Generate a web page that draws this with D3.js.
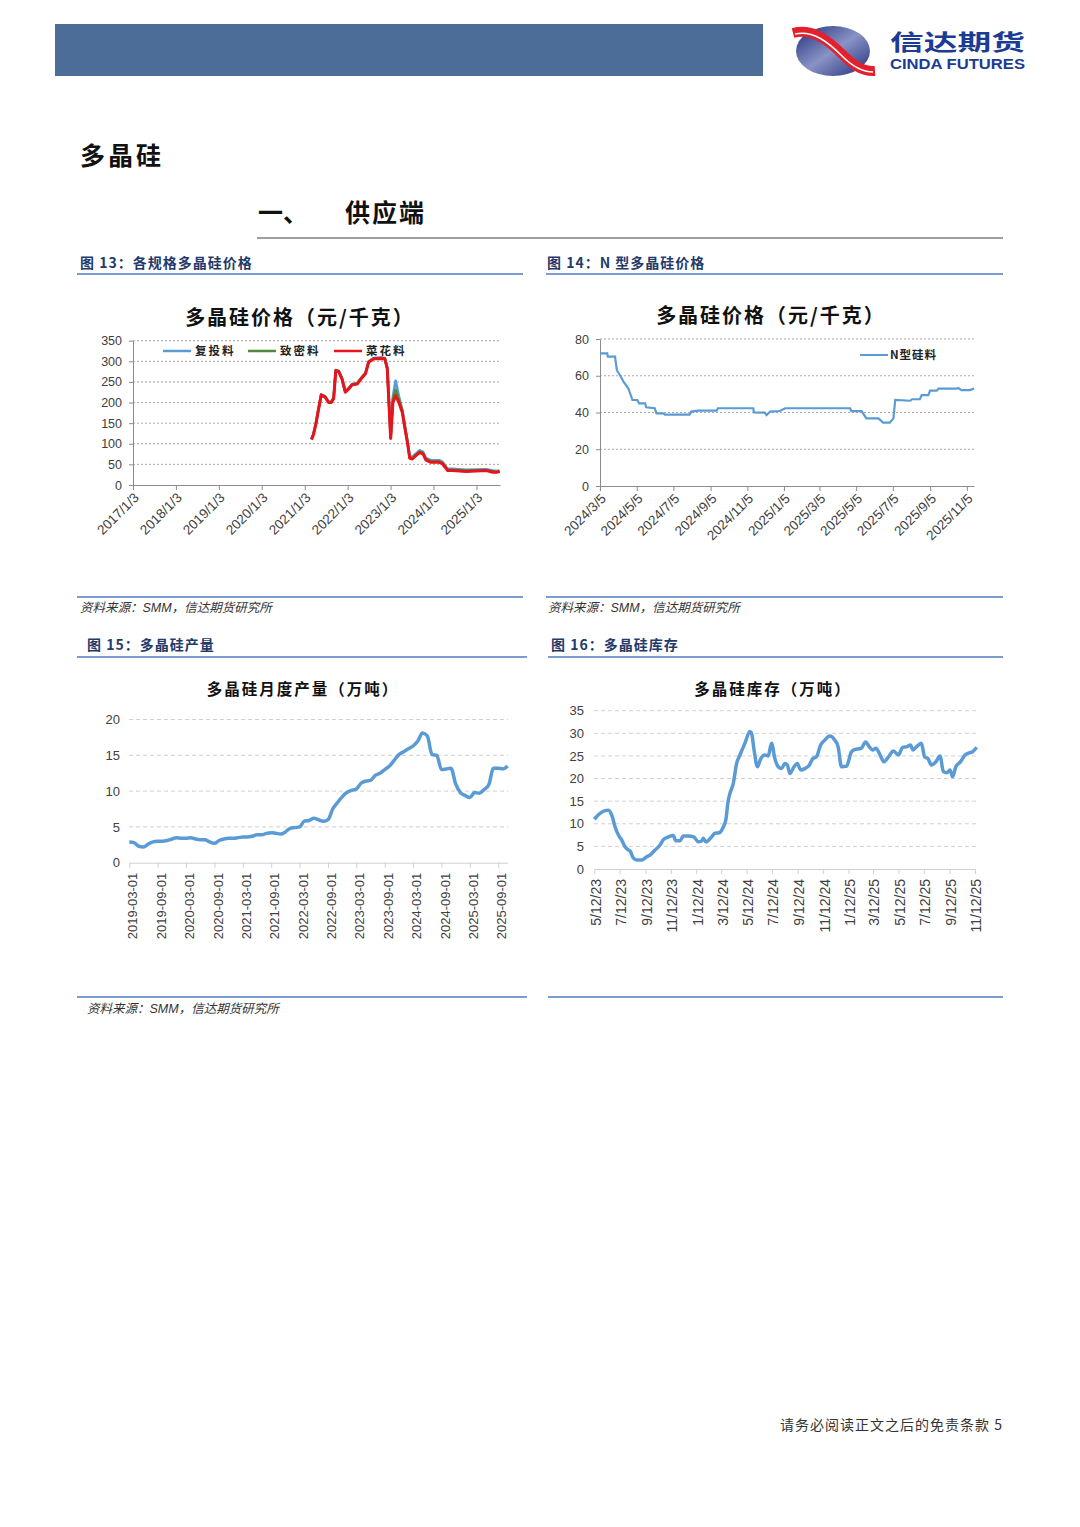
<!DOCTYPE html>
<html>
<head>
<meta charset="utf-8">
<script src="https://cdn.jsdelivr.net/npm/d3@7"></script>
<style>
  body { margin: 0; background: #fff; }
  svg text { font-family: "Liberation Sans", Arial, sans-serif; }
</style>
</head>
<body>
<svg id="page" width="1080" height="1527"></svg>
<script>
// ---------- 图13 各规格多晶硅价格 ----------
const priceDates = ["2021-03-01","2021-03-18","2021-04-08","2021-04-25","2021-05-23","2021-06-26","2021-07-25","2021-08-17","2021-09-06","2021-09-24",
  "2021-10-19","2021-11-16","2021-12-14","2022-01-12","2022-02-10","2022-03-25","2022-05-07","2022-06-04","2022-07-01","2022-08-13",
  "2022-10-09","2022-11-15","2022-12-06","2022-12-20","2023-01-04","2023-01-23","2023-02-15","2023-03-15","2023-04-13","2023-05-11",
  "2023-05-26","2023-06-15","2023-07-08","2023-08-05","2023-09-09","2023-10-07","2023-10-30","2023-12-11","2024-02-21","2024-03-21",
  "2024-05-03","2024-06-14","2024-10-07","2025-03-27","2025-05-22","2025-07-01","2025-07-18"];
const fuTouLiao = [112,124,150,177,220,215,202,202,212,279, 277,259,227,235,245,247,263,272,300,308,
  309,308,285,205,118,215,253,215,182,133, 108,70,68,76,84,80,66,60,60,56, 39,39,37,38,35,34,35];
const zhiMiLiao = [111,123,149,176,219,214,201,201,211,278, 276,258,226,234,244,246,262,271,299,307,
  308,307,283,202,115,208,230,207,179,130, 106,67,65,73,81,77,63,57,57,53, 37,37,35,36,33,32,34];
const caiHuaLiao = [110,122,148,175,218,213,200,200,210,277, 275,257,225,233,243,245,261,270,298,306,
  307,306,282,200,113,200,217,200,176,128, 104,65,63,71,79,75,61,55,55,51, 35,35,33,35,31,31,33];
const priceSeriesNames = ["复投料","致密料","菜花料"];
const priceXTicks = ["2017-01-03","2018-01-03","2019-01-03","2020-01-03","2021-01-03","2022-01-03","2023-01-03","2024-01-03","2025-01-03"];
const priceYTicks = [0,50,100,150,200,250,300,350];

// ---------- 图14 N型多晶硅价格 ----------
const nDates = ["2024-03-05","2024-03-17","2024-03-18","2024-03-30","2024-04-02","2024-04-07","2024-04-13","2024-04-21","2024-04-28","2024-05-06",
  "2024-05-09","2024-05-19","2024-05-21","2024-06-04","2024-06-07","2024-06-18","2024-06-21","2024-08-01","2024-08-04","2024-08-15",
  "2024-09-15","2024-09-17","2024-11-15","2024-11-16","2024-12-04","2024-12-07","2024-12-13","2024-12-29","2025-01-07","2025-04-25",
  "2025-04-27","2025-05-14","2025-05-22","2025-06-11","2025-06-19","2025-06-30","2025-07-06","2025-07-09","2025-08-03","2025-08-06",
  "2025-08-19","2025-08-22","2025-09-02","2025-09-05","2025-09-16","2025-09-19","2025-10-19","2025-10-22","2025-10-27","2025-11-10","2025-11-17"];
const nPrice = [72.2,72.2,70.4,70.4,63,60.4,56.8,53.2,46.8,46.8,
  45,45,42.8,42.3,39.5,39.5,38.8,38.8,40.5,41,
  41,42.3,42.3,40,39.9,38.6,40.5,40.8,42.3,42.3,
  40.8,40.8,36.8,36.8,34.5,34.5,36.8,46.8,46.4,47.2,
  47.2,49.5,49.5,51.9,51.9,53,53,53.3,52.2,52.2,53];
const nXTicks = ["2024-03-05","2024-05-05","2024-07-05","2024-09-05","2024-11-05","2025-01-05","2025-03-05","2025-05-05","2025-07-05","2025-09-05","2025-11-05"];
const nYTicks = [0,20,40,60,80];

// ---------- 图15 多晶硅月度产量 (2019-03 起, 按月) ----------
const outputStart = "2019-03-01";
const outputValues = [2.9,2.8,2.3,2.2,2.6,2.9,3.0,3.0,3.1,3.3,
  3.5,3.4,3.4,3.5,3.3,3.2,3.2,2.9,2.7,3.1,
  3.3,3.4,3.4,3.5,3.6,3.6,3.7,3.9,3.9,4.1,
  4.2,4.1,4.0,4.3,4.8,4.9,5.0,5.8,5.9,6.2,
  6.0,5.8,6.0,7.5,8.4,9.2,9.8,10.1,10.3,11.1,
  11.4,11.5,12.2,12.5,13.0,13.5,14.3,15.1,15.5,15.9,
  16.3,17.0,18.1,17.7,15.1,15.0,13.0,13.1,13.2,11.0,
  9.8,9.4,9.1,9.8,9.7,10.2,10.9,13.2,13.2,13.1,13.5];
const outputXTicks = ["2019-03-01","2019-09-01","2020-03-01","2020-09-01","2021-03-01","2021-09-01","2022-03-01","2022-09-01",
  "2023-03-01","2023-09-01","2024-03-01","2024-09-01","2025-03-01","2025-09-01"];
const outputYTicks = [0,5,10,15,20];

// ---------- 图16 多晶硅库存 ----------
const stockDates = ["2023-05-12","2023-05-26","2023-06-07","2023-06-15","2023-06-23","2023-07-01","2023-07-09","2023-07-17","2023-07-25","2023-08-02",
  "2023-08-06","2023-08-14","2023-08-22","2023-09-03","2023-09-15","2023-09-23","2023-10-05","2023-10-17","2023-10-25","2023-11-06",
  "2023-11-18","2023-11-24","2023-12-04","2023-12-12","2023-12-24","2024-01-06","2024-01-17","2024-01-25","2024-01-29","2024-02-04",
  "2024-02-18","2024-02-26","2024-03-07","2024-03-17","2024-03-23","2024-03-29","2024-04-02","2024-04-10","2024-04-18","2024-04-26",
  "2024-05-08","2024-05-20","2024-05-24","2024-05-30","2024-06-07","2024-06-15","2024-06-25","2024-07-03","2024-07-11","2024-07-19",
  "2024-07-27","2024-08-04","2024-08-12","2024-08-18","2024-08-24","2024-09-03","2024-09-11","2024-09-19","2024-09-29","2024-10-10",
  "2024-10-18","2024-10-27","2024-11-06","2024-11-16","2024-11-28","2024-12-10","2024-12-18","2024-12-26","2025-01-07","2025-01-19",
  "2025-01-27","2025-02-12","2025-02-22","2025-03-03","2025-03-11","2025-03-19","2025-03-29","2025-04-07","2025-04-18","2025-04-30",
  "2025-05-12","2025-05-22","2025-05-31","2025-06-10","2025-06-16","2025-06-24","2025-07-06","2025-07-14","2025-07-22","2025-07-30",
  "2025-08-10","2025-08-20","2025-08-28","2025-09-06","2025-09-13","2025-09-19","2025-09-27","2025-10-08","2025-10-19","2025-10-29",
  "2025-11-06","2025-11-16"];
const stockValues = [11.0,12.3,12.9,13.0,11.9,9.3,7.5,6.4,4.9,4.2,
  4.0,2.4,2.0,2.0,2.7,3.1,4.2,5.3,6.5,7.1,
  7.4,6.25,6.25,7.3,7.3,7.1,6.0,6.2,6.8,6.0,
  7.1,7.9,8.0,9.3,10.8,15.2,16.7,18.9,23.3,25.2,
  27.8,30.4,30.0,26.3,22.6,24.4,25.2,25.0,27.8,24.4,
  22.6,22.2,23.3,23.0,21.1,22.6,23.3,21.9,22.2,23.0,
  24.4,24.8,27.4,28.5,29.4,28.5,27.0,22.6,22.7,25.9,
  26.4,26.7,28.1,27.0,26.3,26.7,25.2,23.7,24.8,26.1,
  25.2,26.9,27.0,27.4,26.3,27.0,27.8,24.8,24.4,23.0,
  23.7,25.0,21.5,21.3,21.9,20.4,22.6,23.7,25.2,25.7,
  25.9,26.9];
const stockXTicks = ["2023-05-12","2023-07-12","2023-09-12","2023-11-12","2024-01-12","2024-03-12","2024-05-12","2024-07-12",
  "2024-09-12","2024-11-12","2025-01-12","2025-03-12","2025-05-12","2025-07-12","2025-09-12","2025-11-12"];
const stockYTicks = [0,5,10,15,20,25,30,35];

// ---------------------------------------------------------------
const CJK = "'Noto Sans CJK SC', sans-serif";
const parse = d3.timeParse("%Y-%m-%d");
const svg = d3.select("#page");

// header bar and logo
svg.append("rect").attr("x", 55).attr("y", 24).attr("width", 708).attr("height", 52).attr("fill", "#4b6d97");

let defs = svg.append("defs");
let grad = defs.append("linearGradient").attr("id", "logoGrad").attr("x1", "0").attr("y1", "0").attr("x2", "1").attr("y2", "1");
grad.append("stop").attr("offset", "0").attr("stop-color", "#1d2c7a");
grad.append("stop").attr("offset", "0.5").attr("stop-color", "#8a93c6");
grad.append("stop").attr("offset", "1").attr("stop-color", "#1d2c7a");
svg.append("ellipse").attr("cx", 833).attr("cy", 51).attr("rx", 37).attr("ry", 25).attr("fill", "url(#logoGrad)");
svg.append("path").attr("d", "M793,33 C812,28 828,40 842,54 C852,64 862,72 875,71")
  .attr("fill", "none").attr("stroke", "#e3202b").attr("stroke-width", 10);
svg.append("path").attr("d", "M795,34 C813,30 828,42 842,56 C852,66 862,72 873,72")
  .attr("fill", "none").attr("stroke", "#fff").attr("stroke-width", 1.5);
svg.append("text").attr("x", 890).attr("y", 50).attr("textLength", 135).attr("lengthAdjust", "spacingAndGlyphs")
  .style("font-family", CJK).style("font-weight", 700).style("font-size", "22px").attr("fill", "#1c3c94").text("信达期货");
svg.append("text").attr("x", 890).attr("y", 68.5).attr("textLength", 135).attr("lengthAdjust", "spacingAndGlyphs")
  .style("font-weight", 700).style("font-size", "14px").attr("fill", "#1c3c94").text("CINDA FUTURES");

// section headings
svg.append("text").attr("x", 80).attr("y", 165).style("font-family", CJK).style("font-weight", 700)
  .style("font-size", "25px").style("letter-spacing", "3px").attr("fill", "#111").text("多晶硅");
svg.append("text").attr("x", 258).attr("y", 222).style("font-family", CJK).style("font-weight", 700)
  .style("font-size", "25px").attr("fill", "#111").text("一、");
svg.append("text").attr("x", 345).attr("y", 222).style("font-family", CJK).style("font-weight", 700)
  .style("font-size", "25px").style("letter-spacing", "2px").attr("fill", "#111").text("供应端");
svg.append("line").attr("x1", 257).attr("x2", 1003).attr("y1", 238).attr("y2", 238).attr("stroke", "#7f7f7f").attr("stroke-width", 1.5);

// captions and rules
const captions = [
  {x: 80, y: 268, t: "图 13：各规格多晶硅价格"},
  {x: 547, y: 268, t: "图 14：N 型多晶硅价格"},
  {x: 87, y: 650, t: "图 15：多晶硅产量"},
  {x: 551, y: 650, t: "图 16：多晶硅库存"}
];
captions.forEach(c => {
  svg.append("text").attr("x", c.x).attr("y", c.y).style("font-family", CJK).style("font-weight", 700)
    .style("font-size", "14px").style("letter-spacing", "1px").attr("fill", "#1f3a6b").text(c.t);
});
const rules = [[77,523,274],[546,1003,274],[77,523,597],[546,1003,597],[77,527,657],[548,1003,657],[77,527,997],[548,1003,997]];
rules.forEach(r => {
  svg.append("line").attr("x1", r[0]).attr("x2", r[1]).attr("y1", r[2]).attr("y2", r[2])
    .attr("stroke", "#7b9bd1").attr("stroke-width", 2);
});
[[80,612],[548,612],[87,1013]].forEach(p => {
  let t = svg.append("text").attr("x", p[0]).attr("y", p[1]).style("font-size", "12.5px").style("font-style", "italic").attr("fill", "#333");
  t.append("tspan").style("font-family", CJK).text("资料来源：");
  t.append("tspan").text("SMM");
  t.append("tspan").style("font-family", CJK).text("，信达期货研究所");
});

// footer
svg.append("text").attr("x", 1003).attr("y", 1430).attr("text-anchor", "end").style("font-family", CJK)
  .style("font-size", "14px").style("letter-spacing", "1px").attr("fill", "#333").text("请务必阅读正文之后的免责条款 5");

// helpers
function chartTitle(x, y, size, t) {
  svg.append("text").attr("x", x).attr("y", y).attr("text-anchor", "middle").style("font-family", CJK)
    .style("font-weight", 700).style("font-size", size).style("letter-spacing", "2px").attr("fill", "#111").text(t);
}
function grid(g, y, ticks, x0, x1, color, dash) {
  g.append("g").selectAll("line").data(ticks.filter(v => v > 0)).join("line")
    .attr("x1", x0).attr("x2", x1).attr("y1", d => y(d)).attr("y2", d => y(d))
    .attr("stroke", color).attr("stroke-dasharray", dash).attr("stroke-width", 1);
}
function styleAxis(a, color, size) {
  a.selectAll("path.domain").attr("stroke", color);
  a.selectAll(".tick line").attr("stroke", color);
  a.selectAll("text").style("font-size", size).attr("fill", "#404040");
}

// ---------- chart 13 ----------
{
  const g = svg.append("g");
  chartTitle(300, 325, "20px", "多晶硅价格（元/千克）");
  const x = d3.scaleTime().domain([parse("2017-01-03"), parse("2025-07-22")]).range([133, 500]);
  const y = d3.scaleLinear().domain([0, 350]).range([485, 340.7]);
  grid(g, y, priceYTicks, 133, 500, "#a6a6a6", "2,2");
  const ya = g.append("g").attr("transform", "translate(133,0)")
    .call(d3.axisLeft(y).tickValues(priceYTicks).tickSize(4).tickPadding(7).tickSizeOuter(0));
  styleAxis(ya, "#8c8c8c", "12.5px");
  const xa = g.append("g").attr("transform", "translate(0,485)")
    .call(d3.axisBottom(x).tickValues(priceXTicks.map(parse)).tickFormat(d3.timeFormat("%Y/%-m/%-d")).tickSize(5).tickSizeOuter(0));
  styleAxis(xa, "#8c8c8c", "13.5px");
  xa.selectAll("text").attr("x", 0).attr("y", 0).attr("dy", "0.35em").attr("text-anchor", "end")
    .attr("transform", "translate(3,10) rotate(-45)");

  const series = [
    {name: priceSeriesNames[0], vals: fuTouLiao, color: "#5b9bd5", w: 2.6},
    {name: priceSeriesNames[1], vals: zhiMiLiao, color: "#4e8a3a", w: 2.6},
    {name: priceSeriesNames[2], vals: caiHuaLiao, color: "#e8141c", w: 3}
  ];
  const line = d3.line().x(d => x(d[0])).y(d => y(d[1]));
  series.forEach(s => {
    g.append("path").datum(priceDates.map((d, i) => [parse(d), s.vals[i]]))
      .attr("d", line).attr("fill", "none").attr("stroke", s.color).attr("stroke-width", s.w).attr("stroke-linejoin", "round");
  });
  const legX = [163, 248, 334];
  series.forEach((s, i) => {
    g.append("line").attr("x1", legX[i]).attr("x2", legX[i] + 28).attr("y1", 351).attr("y2", 351)
      .attr("stroke", s.color).attr("stroke-width", 2.5);
    g.append("text").attr("x", legX[i] + 32).attr("y", 355).style("font-family", CJK).style("font-weight", 700)
      .style("font-size", "11.5px").style("letter-spacing", "2px").attr("fill", "#222").text(s.name);
  });
}

// ---------- chart 14 ----------
{
  const g = svg.append("g");
  chartTitle(771, 323, "20px", "多晶硅价格（元/千克）");
  const x = d3.scaleTime().domain([parse("2024-03-05"), parse("2025-11-17")]).range([600, 974]);
  const y = d3.scaleLinear().domain([0, 80]).range([486, 339]);
  grid(g, y, nYTicks, 600, 974, "#a6a6a6", "2,2");
  const ya = g.append("g").attr("transform", "translate(600,0)")
    .call(d3.axisLeft(y).tickValues(nYTicks).tickSize(4).tickPadding(7).tickSizeOuter(0));
  styleAxis(ya, "#8c8c8c", "12.5px");
  const xa = g.append("g").attr("transform", "translate(0,486)")
    .call(d3.axisBottom(x).tickValues(nXTicks.map(parse)).tickFormat(d3.timeFormat("%Y/%-m/%-d")).tickSize(5).tickSizeOuter(0));
  styleAxis(xa, "#8c8c8c", "13.5px");
  xa.selectAll("text").attr("x", 0).attr("y", 0).attr("dy", "0.35em").attr("text-anchor", "end")
    .attr("transform", "translate(3,10) rotate(-45)");
  const line = d3.line().x(d => x(d[0])).y(d => y(d[1]));
  g.append("path").datum(nDates.map((d, i) => [parse(d), nPrice[i]]))
    .attr("d", line).attr("fill", "none").attr("stroke", "#5b9bd5").attr("stroke-width", 2.2);
  g.append("line").attr("x1", 860).attr("x2", 888).attr("y1", 355).attr("y2", 355).attr("stroke", "#5b9bd5").attr("stroke-width", 2);
  g.append("text").attr("x", 890).attr("y", 359).style("font-family", CJK).style("font-weight", 700)
    .style("font-size", "11.5px").style("letter-spacing", "1px").attr("fill", "#222").text("N型硅料");
}

// ---------- chart 15 ----------
{
  const g = svg.append("g");
  chartTitle(303, 695, "15.5px", "多晶硅月度产量（万吨）");
  const months = outputValues.map((v, i) => d3.timeFormat("%Y-%m-%d")(d3.timeMonth.offset(parse(outputStart), i)));
  const x = d3.scalePoint().domain(months).range([129.3, 507.7]);
  const y = d3.scaleLinear().domain([0, 20]).range([862.7, 719.5]);
  grid(g, y, outputYTicks, 129, 508, "#d0d0d0", "4,3");
  const ya = g.append("g").attr("transform", "translate(129,0)")
    .call(d3.axisLeft(y).tickValues(outputYTicks).tickSize(0).tickPadding(9));
  ya.select("path.domain").remove();
  styleAxis(ya, "#d0d0d0", "13px");
  const xa = g.append("g").attr("transform", "translate(0,862.7)")
    .call(d3.axisBottom(x).tickValues(outputXTicks).tickSize(5).tickSizeOuter(0));
  styleAxis(xa, "#d0d0d0", "13px");
  xa.selectAll("text").attr("x", 0).attr("y", 0).attr("dy", "0.35em").attr("text-anchor", "end")
    .attr("transform", "translate(3,10) rotate(-90)");
  const line = d3.line().x((d, i) => x(months[i])).y(d => y(d)).curve(d3.curveMonotoneX);
  g.append("path").datum(outputValues).attr("d", line).attr("fill", "none")
    .attr("stroke", "#5b9bd5").attr("stroke-width", 3.5).attr("stroke-linejoin", "round");
}

// ---------- chart 16 ----------
{
  const g = svg.append("g");
  chartTitle(773, 695, "15.5px", "多晶硅库存（万吨）");
  const x = d3.scaleTime().domain([parse("2023-05-12"), parse("2025-11-12")]).range([594.3, 975]);
  const y = d3.scaleLinear().domain([0, 35]).range([869, 710.7]);
  grid(g, y, stockYTicks, 594, 976, "#d0d0d0", "4,3");
  const ya = g.append("g").attr("transform", "translate(594,0)")
    .call(d3.axisLeft(y).tickValues(stockYTicks).tickSize(0).tickPadding(10));
  ya.select("path.domain").remove();
  styleAxis(ya, "#d0d0d0", "13px");
  const xa = g.append("g").attr("transform", "translate(0,869)")
    .call(d3.axisBottom(x).tickValues(stockXTicks.map(parse)).tickFormat(d3.timeFormat("%-m/%-d/%y")).tickSize(5).tickSizeOuter(0));
  styleAxis(xa, "#d0d0d0", "14px");
  xa.selectAll("text").attr("x", 0).attr("y", 0).attr("dy", "0.35em").attr("text-anchor", "end")
    .attr("transform", "translate(1,10) rotate(-90)");
  const line = d3.line().x(d => x(d[0])).y(d => y(d[1])).curve(d3.curveMonotoneX);
  g.append("path").datum(stockDates.map((d, i) => [parse(d), stockValues[i]]))
    .attr("d", line).attr("fill", "none").attr("stroke", "#5b9bd5").attr("stroke-width", 3.5).attr("stroke-linejoin", "round");
}
</script>
</body>
</html>
